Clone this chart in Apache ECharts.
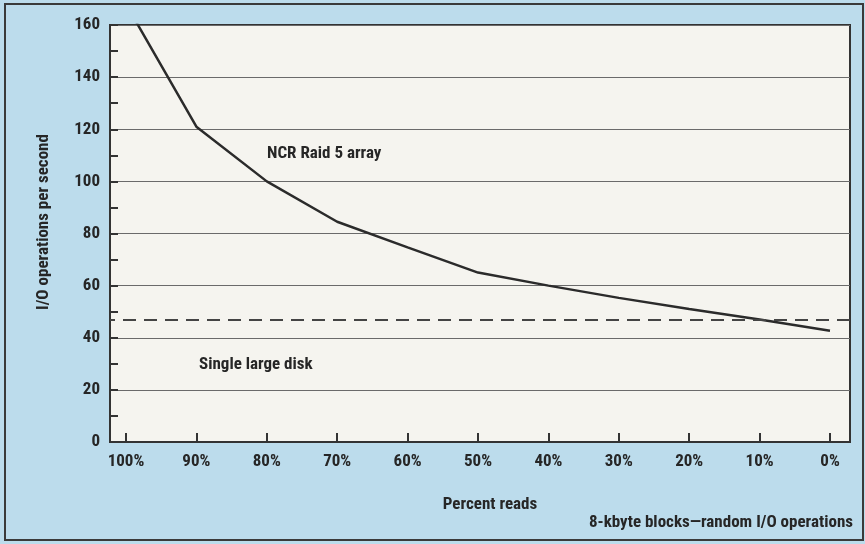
<!DOCTYPE html>
<html>
<head>
<meta charset="utf-8">
<script src="https://cdn.jsdelivr.net/npm/echarts@6/dist/echarts.min.js"></script>
<style>html,body{margin:0;padding:0;background:#f3f1ea;}#c{width:865px;height:544px;}</style>
</head>
<body>
<div id="c"></div>
<script>
var percentReads = [100, 90, 80, 70, 60, 50, 40, 30, 20, 10, 0];
var raid5Ops = [168, 121, 100, 84.5, 74.7, 65, 60, 55.3, 51, 47, 42.7];
var singleDiskOps = 47;
var xTickValues = [100, 90, 80, 70, 60, 50, 40, 30, 20, 10, 0];

var FONT = "'Roboto Condensed', sans-serif";
var TXT = '#262626';

var chart = echarts.init(document.getElementById('c'), null, {renderer: 'canvas'});
chart.setOption({
  backgroundColor: '#bcdcec',
  animation: false,
  grid: {
    left: 110, right: 15, top: 25, bottom: 102,
    show: true, backgroundColor: '#f5f4ef', borderColor: '#333', borderWidth: 2
  },
  xAxis: {
    type: 'value', inverse: true, min: -2.84, max: 102.27,
    axisLine: {show: true, onZero: false, lineStyle: {color: '#333', width: 2}},
    axisTick: {show: true, inside: true, length: 9, customValues: xTickValues, lineStyle: {color: '#333', width: 2}},
    axisLabel: {show: true, customValues: xTickValues, margin: 11, color: TXT, fontFamily: FONT, fontSize: 17, fontWeight: 'bold',
      formatter: function (v) { return v + '%'; }},
    splitLine: {show: false}
  },
  yAxis: {
    type: 'value', min: 0, max: 160, interval: 20,
    axisLine: {show: true, onZero: false, lineStyle: {color: '#333', width: 2}},
    axisTick: {show: true, inside: true, length: 8, lineStyle: {color: '#333', width: 2}},
    minorTick: {show: true, splitNumber: 2, length: 8, lineStyle: {color: '#333', width: 2}},
    axisLabel: {margin: 10, color: TXT, fontFamily: FONT, fontSize: 17, fontWeight: 'bold'},
    splitLine: {show: true, lineStyle: {color: '#6a6a6a', width: 1}}
  },
  series: [{
    type: 'line',
    data: percentReads.map(function (p, i) { return [p, raid5Ops[i]]; }),
    symbol: 'none', clip: true,
    lineStyle: {color: '#2b2b2b', width: 2.5},
    markLine: {
      silent: true, symbol: 'none', label: {show: false},
      lineStyle: {color: '#444', width: 2, type: [13, 8]},
      data: [{yAxis: singleDiskOps}]
    }
  }],
  graphic: [
    {type: 'rect', shape: {x: 5, y: 4, width: 858, height: 536}, style: {fill: 'none', stroke: '#3a3a3a', lineWidth: 2}},
    {type: 'text', x: 267, y: 154, style: {text: 'NCR Raid 5 array', fill: TXT, font: 'bold 17px ' + FONT, textVerticalAlign: 'middle'}},
    {type: 'text', x: 199, y: 365, style: {text: 'Single large disk', fill: TXT, font: 'bold 17px ' + FONT, textVerticalAlign: 'middle'}},
    {type: 'text', x: 490, y: 505, style: {text: 'Percent reads', fill: TXT, font: 'bold 17px ' + FONT, textAlign: 'center', textVerticalAlign: 'middle'}},
    {type: 'text', x: 853, y: 523, style: {text: '8-kbyte blocks\u2014random I/O operations', fill: TXT, font: 'bold 17px ' + FONT, textAlign: 'right', textVerticalAlign: 'middle'}},
    {type: 'text', x: 44, y: 222, rotation: Math.PI / 2, style: {text: 'I/O operations per second', fill: TXT, font: 'bold 17px ' + FONT, textAlign: 'center', textVerticalAlign: 'middle'}}
  ]
});
</script>
</body>
</html>
